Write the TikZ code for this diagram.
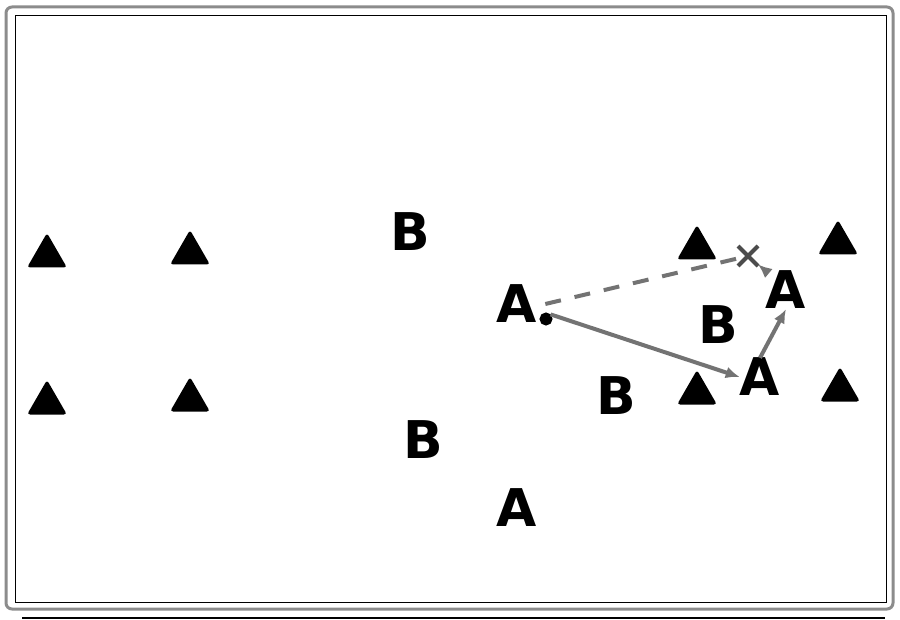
\documentclass[tikz,border=0pt]{standalone}
\usepackage{fontspec}
\setmainfont{DejaVu Sans}
\usetikzlibrary{shapes.geometric,shapes.misc,arrows.meta}
\begin{document}
\begin{tikzpicture}[x=1pt,y=-1pt,
  cone/.style={regular polygon,regular polygon sides=3,fill=black,inner sep=0pt,
    minimum size=46pt,rounded corners=3pt},
  player/.style={inner sep=0pt,font=\fontsize{52}{52}\selectfont\bfseries},
  pass/.style={draw=black!55,line width=4pt}]
  \useasboundingbox (0,0) rectangle (900,620);
  \draw[black!45,line width=3pt,rounded corners=6pt] (6,7) rectangle (893,609);
  \draw[line width=1pt] (15,16) rectangle (886,602);
  \draw[line width=2pt] (22,618) -- (885,618);
  \node[cone] (c1) at (47,256) {};
  \node[cone] (c2) at (190,253) {};
  \node[cone] (c3) at (47,403) {};
  \node[cone] (c4) at (190,400) {};
  \node[cone] (c5) at (697,248) {};
  \node[cone] (c6) at (838,243) {};
  \node[cone] (c7) at (697,393) {};
  \node[cone] (c8) at (840,390) {};
  \node[player] (b1) at (410,232) {B};
  \node[player] (b2) at (718,325) {B};
  \node[player] (b3) at (616,396) {B};
  \node[player] (b4) at (423,440) {B};
  \node[player] (a1) at (517,304) {A};
  \node[player] (a2) at (786,290) {A};
  \node[player] (a3) at (760,377) {A};
  \node[player] (a4) at (517,508) {A};
  \node[draw,circle,line width=2pt,fill=black,inner sep=0pt,minimum size=11pt] (ball) at (546,319) {};
  \node[draw=black!70,cross out,line width=4pt,minimum size=16pt,inner sep=0pt] (spot) at (748,256) {};
  \draw[pass,dashed,dash pattern=on 16pt off 14pt] ([xshift=8pt]a1.east) -- (spot);
  \draw[pass,-{Latex[length=14pt,width=12pt]}] (ball.north east) -- (a3.west);
  \draw[pass,-{Latex[length=14pt,width=12pt]}] (a3.north) -- (a2.south);
  \draw[pass,-{Latex[length=14pt,width=12pt]}] (a2.north west) -- (spot);
\end{tikzpicture}
\end{document}
